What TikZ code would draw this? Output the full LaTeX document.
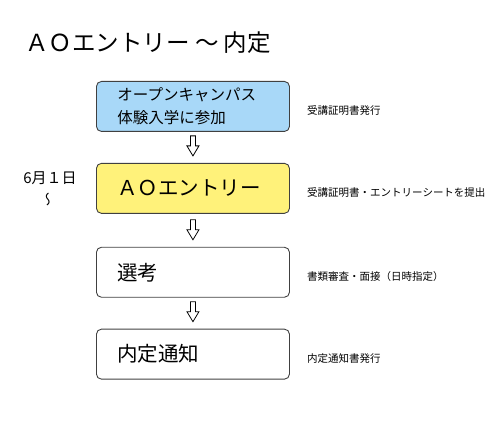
\documentclass[tikz,border=0pt]{standalone}
\usepackage{fontspec}
\setmainfont{Noto Sans CJK JP}
\usepackage{xcolor}
\usetikzlibrary{positioning,calc}
\definecolor{openblue}{HTML}{A8D8F8}
\definecolor{entryyellow}{HTML}{FFF27A}
\definecolor{boxline}{HTML}{404040}

\begin{document}
\begin{tikzpicture}[x=1pt, y=-1pt, node distance=31pt, semithick,
    stagebox/.style={draw=boxline, line width=0.9pt, rounded corners=5pt, minimum height=50pt,
      text width=151pt, inner xsep=21pt, inner ysep=0pt, align=left},
    note/.style={font=\fontsize{10.5}{12}\selectfont, inner sep=0pt, right=17pt of #1.east, yshift=-4.5pt},
    hollow/.style={draw, line width=0.8pt, fill=white, line join=miter}]
  \useasboundingbox (0,0) rectangle (500,438);

  \node[anchor=west, inner sep=0pt, font=\fontsize{23.5}{28}\selectfont] (title) at (25,43) {ＡＯエントリー ～ 内定};

  \node[stagebox, fill=openblue, anchor=north west, font=\fontsize{15.5}{23}\selectfont] (open) at (96,81) {オープンキャンパス\\体験入学に参加};
  \node[stagebox, fill=entryyellow, font=\fontsize{20.5}{24}\selectfont] (entry) [below=of open] {ＡＯエントリー};
  \node[stagebox, font=\fontsize{20.5}{24}\selectfont] (select) [below=33pt of entry] {選考};
  \node[stagebox, font=\fontsize{20.5}{24}\selectfont] (offer) [below=of select] {内定通知};

  \node[note=open] (opennote) {受講証明書発行};
  \node[note=entry] (entrynote) {受講証明書・エントリーシートを提出};
  \node[note=select] (selectnote) {書類審査・面接（日時指定）};
  \node[note=offer] (offernote) {内定通知書発行};

  \node[anchor=west, inner sep=0pt, font=\fontsize{15}{17}\selectfont] (date) at (23,178) {6月１日};
  \node[rotate=90, inner sep=0pt, font=\fontsize{14}{16}\selectfont] (wave) at (50,200) {\reflectbox{～}};

  % hollow arrows, tip 7pt above the next box
  \foreach \from/\to in {open/entry, entry/select, select/offer}
    \draw[hollow] ($(\to.north)+(0,-7)$) -- ++(-6,-10) -- ++(3.5,0) -- ++(0,-10) -- ++(5,0)
      -- ++(0,10) -- ++(3.5,0) -- cycle;
\end{tikzpicture}
\end{document}
